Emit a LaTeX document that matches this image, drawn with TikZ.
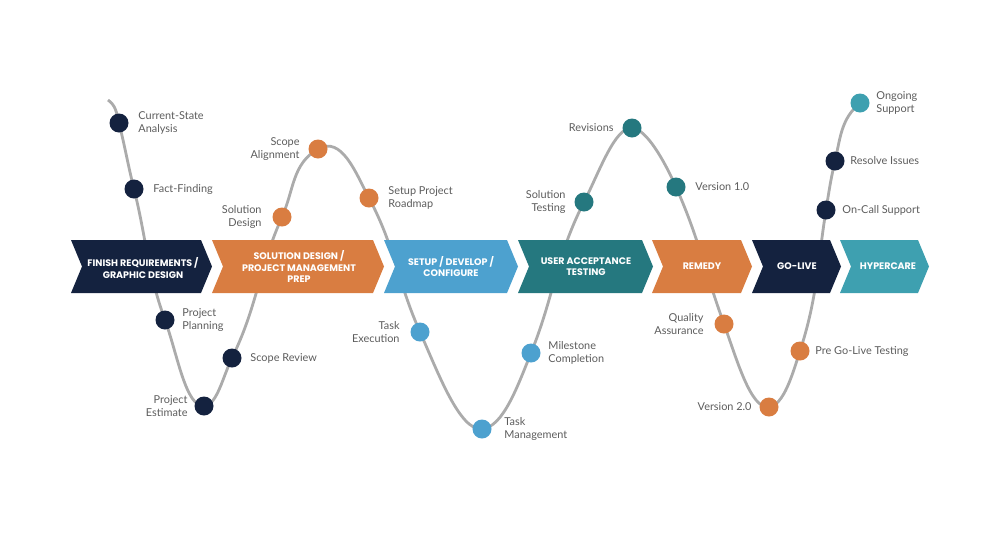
\documentclass[tikz,border=0pt]{standalone}
\usepackage{fontspec}
\setmainfont{Lato}
\newfontfamily\phasefont{Poppins}
\usepackage{tikz}
\usetikzlibrary{positioning}
\pgfdeclarelayer{bg}
\pgfsetlayers{bg,main}

\definecolor{navy}{HTML}{14223F}
\definecolor{rust}{HTML}{D97D41}
\definecolor{sky}{HTML}{4DA1CF}
\definecolor{uatteal}{HTML}{25787F}
\definecolor{carecyan}{HTML}{3EA0B0}
\definecolor{wavegray}{HTML}{ABABAB}
\definecolor{lblgray}{HTML}{5C5C5C}

\tikzset{
  wave/.style={line width=2.4pt, color=wavegray},
  dot/.style={circle, inner sep=0pt, minimum size=5.7mm},
  lbl/.style={font=\fontsize{9.3}{11}\selectfont, text=lblgray, inner sep=0pt},
  lbll/.style={lbl, align=left},
  lblr/.style={lbl, align=right},
  phase/.style={font=\phasefont\bfseries\fontsize{8.1}{9.6}\selectfont, text=white, align=center, inner sep=0pt}
}

\begin{document}
\begin{tikzpicture}[x=0.3mm, y=0.3mm]
\useasboundingbox (0,0) rectangle (1000,-533);

% milestones along the wave
\coordinate (s0) at (108,-100);
\node[dot, fill=navy] (cs) at (119,-123) {};
\node[dot, fill=navy] (ff) at (134,-189) {};
\node[dot, fill=navy] (pp) at (165,-320) {};
\node[dot, fill=navy] (pe) at (204,-406) {};
\node[dot, fill=navy] (sr) at (232,-358) {};
\node[dot, fill=rust] (sd) at (282,-217) {};
\node[dot, fill=rust] (sa) at (318,-149) {};
\node[dot, fill=rust] (ro) at (369,-198) {};
\node[dot, fill=sky] (te) at (420,-332) {};
\node[dot, fill=sky] (tm) at (482,-429) {};
\node[dot, fill=sky] (mc) at (531,-353) {};
\node[dot, fill=uatteal] (st) at (584,-202) {};
\node[dot, fill=uatteal] (rv) at (632,-128) {};
\node[dot, fill=uatteal] (vone) at (676,-187) {};
\node[dot, fill=rust] (qa) at (724,-324) {};
\node[dot, fill=rust] (vtwo) at (769,-407) {};
\node[dot, fill=rust] (pg) at (800,-351) {};
\node[dot, fill=navy] (oc) at (826,-210) {};
\node[dot, fill=navy] (ri) at (835,-161) {};
\node[dot, fill=carecyan] (os) at (860,-103) {};

% the wave, behind everything
\begin{pgfonlayer}{bg}
\draw[wave] (s0) to[out=-35,in=104] (cs.center)
  to[out=-76,in=104] (ff.center)
  to[out=-76,in=110] (pp.center)
  to[out=-70,in=183,in looseness=0.5] (pe.center)
  to[out=3,in=-116,out looseness=0.6] (sr.center)
  to[out=64,in=-114] (sd.center)
  to[out=66,in=-150] (sa.center)
  to[out=30,in=118] (ro.center)
  to[out=-62,in=114] (te.center)
  to[out=-66,in=185,in looseness=0.5] (tm.center)
  to[out=5,in=-112,out looseness=0.6] (mc.center)
  to[out=68,in=-117] (st.center)
  to[out=63,in=177,in looseness=0.5] (rv.center)
  to[out=-3,in=114,out looseness=0.5] (vone.center)
  to[out=-66,in=110] (qa.center)
  to[out=-70,in=188,in looseness=0.5] (vtwo.center)
  to[out=8,in=-108,out looseness=0.6] (pg.center)
  to[out=72,in=-99] (oc.center)
  to[out=81,in=-103] (ri.center)
  to[out=77,in=220] (os.center);
\end{pgfonlayer}

% phase chevrons
\fill[navy] (71,-240) -- (201,-240) -- (212,-266.5) -- (201,-293) -- (71,-293) -- (82,-266.5) -- cycle;
\fill[rust] (212,-240) -- (373,-240) -- (384,-266.5) -- (373,-293) -- (212,-293) -- (223,-266.5) -- cycle;
\fill[sky] (384,-240) -- (507,-240) -- (518,-266.5) -- (507,-293) -- (384,-293) -- (395,-266.5) -- cycle;
\fill[uatteal] (518,-240) -- (642,-240) -- (653,-266.5) -- (642,-293) -- (518,-293) -- (529,-266.5) -- cycle;
\fill[rust] (652,-240) -- (741,-240) -- (752,-266.5) -- (741,-293) -- (652,-293) -- (663,-266.5) -- cycle;
\fill[navy] (752,-240) -- (830,-240) -- (841,-266.5) -- (830,-293) -- (752,-293) -- (763,-266.5) -- cycle;
\fill[carecyan] (840,-240) -- (918,-240) -- (929,-266.5) -- (918,-293) -- (840,-293) -- (851,-266.5) -- cycle;

\node[phase] (req) at (143,-268) {FINISH REQUIREMENTS /\\GRAPHIC DESIGN};
\node[phase] (sol) at (299,-266.5) {SOLUTION DESIGN /\\PROJECT MANAGEMENT\\PREP};
\node[phase] (dev) at (451,-266.5) {SETUP / DEVELOP /\\CONFIGURE};
\node[phase] (uat) at (586,-266.5) {USER ACCEPTANCE\\TESTING};
\node[phase] (rem) at (702,-266.5) {REMEDY};
\node[phase] (live) at (797,-266.5) {GO-LIVE};
\node[phase] (care) at (888,-266.5) {HYPERCARE};

% labels
\node[lbll, right=2.85mm of cs] (csl) {Current-State\\Analysis};
\node[lbll, right=2.85mm of ff] (ffl) {Fact-Finding};
\node[lbll, right=2.25mm of pp] (ppl) {Project\\Planning};
\node[lblr, left=1.95mm of pe] (pel) {Project\\Estimate};
\node[lbll, right=2.55mm of sr] (srl) {Scope Review};
\node[lblr, left=3.15mm of sd] (sdl) {Solution\\Design};
\node[lblr, left=2.55mm of sa] (sal) {Scope\\Alignment};
\node[lbll, right=2.85mm of ro] (rol) {Setup Project\\Roadmap};
\node[lblr, left=3.15mm of te] (tel) {Task\\Execution};
\node[lbll, right=3.75mm of tm] (tml) {Task\\Management};
\node[lbll, right=2.25mm of mc] (mcl) {Milestone\\Completion};
\node[lblr, left=2.55mm of st] (stl) {Solution\\Testing};
\node[lblr, left=2.55mm of rv] (rvl) {Revisions};
\node[lbll, right=2.85mm of vone] (vonel) {Version 1.0};
\node[lblr, left=3.15mm of qa] (qal) {Quality\\Assurance};
\node[lblr, left=2.25mm of vtwo] (vtwol) {Version 2.0};
\node[lbll, right=1.65mm of pg] (pgl) {Pre Go-Live Testing};
\node[lbll, right=1.95mm of oc] (ocl) {On-Call Support};
\node[lbll, right=1.65mm of ri] (ril) {Resolve Issues};
\node[lbll, right=1.95mm of os] (osl) {Ongoing\\Support};
\end{tikzpicture}
\end{document}
